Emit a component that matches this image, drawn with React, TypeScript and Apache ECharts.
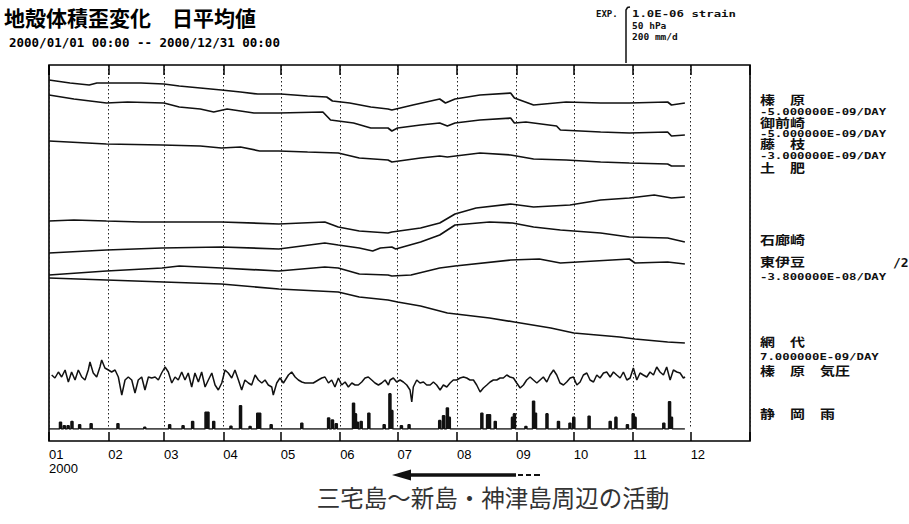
import React, { useEffect, useRef } from "react";
import * as echarts from "echarts";

// ---------- data (x = day of year 2000, 0 = Jan 1; y = chart offset units) ----------
const monthLabels = ["01", "02", "03", "04", "05", "06", "07", "08", "09", "10", "11", "12"];

const haibara = [[0,349],[11,346],[21,344],[25,346],[39,346],[48,346],[60,345],[68,343],[79,341],[90,339],[100,337],[109,335],[121,335],[135,333],[145,332],[148,328],[157,326],[168,322],[177,320],[179,319],[190,324],[204,330],[207,326],[212,330],[225,334],[241,336],[243,331],[253,324],[270,327],[288,326],[303,326],[323,327],[325,324],[332,326]];
const omaezaki = [[0,334],[13,330],[30,326],[41,327],[60,326],[68,322],[79,320],[86,317],[93,320],[107,316],[120,316],[143,317],[147,309],[151,308],[159,306],[168,301],[177,301],[179,298],[182,301],[194,304],[204,306],[208,303],[212,306],[225,309],[241,311],[243,306],[249,307],[265,303],[267,299],[288,297],[303,296],[323,297],[325,293],[332,294]];
const fujieda = [[0,288],[30,285],[59,284],[79,283],[90,281],[100,282],[110,278],[120,278],[135,277],[151,276],[162,271],[177,269],[179,267],[194,271],[204,273],[208,272],[225,276],[241,274],[253,270],[270,269],[288,267],[303,266],[323,265],[325,263],[332,263]];
const toi = [[0,208],[13,209],[30,208],[48,207],[59,207],[90,207],[120,205],[144,207],[151,202],[162,198],[177,196],[179,197],[194,201],[204,206],[212,215],[223,221],[241,225],[253,222],[272,224],[288,229],[303,231],[316,234],[325,231],[332,232]];
const irozaki = [[0,176],[30,179],[59,181],[90,182],[120,180],[144,186],[151,184],[162,181],[169,178],[173,181],[179,182],[181,180],[194,187],[204,194],[212,204],[230,207],[242,206],[253,202],[267,199],[288,196],[303,192],[323,191],[332,187]];
const higashiIzu = [[0,154],[30,158],[59,161],[68,163],[90,161],[120,158],[144,162],[151,161],[162,155],[177,154],[179,153],[189,154],[204,161],[212,163],[241,169],[256,170],[267,166],[303,170],[306,166],[323,167],[332,165]];
const ajiro = [[0,151],[30,149],[60,147],[90,145],[120,140],[151,137],[162,132],[177,129],[182,127],[194,123],[208,116],[230,111],[243,107],[262,101],[274,96],[298,92],[306,90],[323,87],[332,86]];

const haibaraPressure = [[1.4,54],[3.1,51],[4.9,57],[6.6,52],[8.4,59],[10.1,47],[11.8,57],[13.6,49],[15.3,59],[17.1,52],[18.8,49],[20.5,59],[21.4,67],[23.1,56],[24.9,52],[26.6,62],[27.5,69],[29.2,61],[31,59],[32.7,57],[34.5,59],[36.2,52],[38,34],[39.7,49],[41.4,52],[43.2,49],[44.9,36],[46.6,49],[48.4,52],[50.1,39],[51.9,52],[53.6,51],[55.4,52],[57.1,49],[58.8,56],[60.6,62],[62.3,57],[64.1,46],[65.8,52],[67.5,49],[69.3,57],[71,49],[72.7,56],[74.5,42],[76.2,56],[78,47],[79.7,57],[81.5,42],[83.2,49],[85,56],[86.7,44],[88.4,39],[90.2,46],[91.9,59],[93.6,56],[95.4,51],[97.1,59],[98.9,49],[100.6,39],[102.3,49],[104.1,46],[105.8,44],[107.6,54],[109.3,49],[111.1,46],[112.8,49],[114.5,44],[116.3,42],[117.1,34],[118.9,46],[120.6,51],[122.4,46],[125,54],[126.7,57],[128.5,52],[130.2,49],[132,47],[133.7,46],[135.4,46],[138,46],[140.6,49],[142.4,51],[144.1,52],[145.9,46],[147.6,49],[149.3,42],[151.1,51],[152.8,44],[154.6,47],[156.3,42],[158.1,46],[159.8,44],[161.5,44],[163.3,47],[165,51],[166.7,52],[168.5,49],[170.2,46],[172,44],[173.7,46],[175.5,49],[177.2,44],[178.1,49],[179.8,51],[181.5,47],[183.3,49],[185,47],[186.8,44],[188.5,39],[189.4,27],[190.2,42],[192,49],[193.7,46],[195.5,47],[197.2,44],[199,44],[200.7,47],[202.4,44],[204.2,39],[205.9,44],[207.7,42],[209.4,46],[211.1,49],[212.9,49],[214.6,51],[216.4,52],[218.1,51],[219.8,49],[221.6,49],[223.3,44],[225.1,37],[226.8,41],[228.6,44],[230.3,47],[232,49],[233.8,49],[235.5,51],[237.2,51],[239,54],[240.7,52],[242.5,51],[244.2,46],[246,41],[247.7,44],[249.4,49],[251.2,52],[252.9,49],[254.7,46],[256.4,49],[258.1,52],[259.9,47],[261.6,54],[263.4,59],[265.1,54],[266.8,46],[268.6,44],[270.3,47],[272.1,51],[273.8,52],[275.6,44],[277.3,47],[279,54],[280.8,56],[282.5,49],[284.3,47],[286,54],[287.7,51],[289.5,56],[291.2,57],[293,52],[294.7,57],[296.4,54],[298.2,51],[299.9,57],[301.7,49],[303.4,51],[305.1,61],[306.9,49],[308.6,56],[310.3,54],[312.1,52],[313.8,57],[315.6,54],[317.3,62],[319,57],[320.8,54],[322.5,62],[324.3,49],[326,59],[327.8,57],[329.5,56],[331.2,51],[332.1,52]];

// Shizuoka daily rainfall, mm/d (days not listed: no visible rain)
const shizuokaRain = [[6,25],[8,12],[10,12],[12,28],[16,16],[22,19],[36,19],[50,6],[63,16],[70,12],[75,28],[82,62],[83,62],[86,28],[95,10],[100,86],[105,9],[109,58],[110,58],[116,16],[132,21],[146,41],[148,33],[150,19],[159,95],[160,56],[161,25],[163,28],[167,58],[175,16],[178,130],[179,68],[184,12],[188,16],[204,31],[206,49],[208,78],[209,43],[226,58],[229,53],[230,53],[233,28],[242,43],[243,56],[249,9],[253,103],[254,58],[260,56],[266,28],[272,21],[274,43],[282,47],[293,28],[296,43],[302,16],[305,56],[306,43],[321,21],[324,101],[325,43]];
const lastDataDay = 332;

// ---------- helpers ----------
const START = new Date(2000, 0, 1).getTime();
const END = new Date(2001, 0, 1).getTime();
const DAY = 86400000;
const toTime = (pairs: number[][]) => pairs.map(([d, v]) => [START + d * DAY, v]);

const rainDaily: number[][] = [];
for (let d = 0; d <= lastDataDay; d++) rainDaily.push([d, 0]);
shizuokaRain.forEach(([d, v]) => { rainDaily[d][1] = v; });

const INK = "#111";
const MONO = '"DejaVu Sans Mono"';
const CJK = '"Noto Sans CJK JP"';

const strainLine = (data: number[][]) => ({
  type: "line",
  xAxisIndex: 0,
  yAxisIndex: 0,
  data: toTime(data),
  symbol: "none",
  silent: true,
  lineStyle: { color: INK, width: 1.7 },
});

const rightLabels: [string, number, boolean][] = [
  ["榛　原", 100, true],
  ["-5.000000E-09/DAY", 112, false],
  ["御前崎", 123, true],
  ["-5.000000E-09/DAY", 134, false],
  ["藤　枝", 144, true],
  ["-3.000000E-09/DAY", 156, false],
  ["土　肥", 168, true],
  ["石廊崎", 240, true],
  ["東伊豆", 262, true],
  ["-3.800000E-08/DAY", 277, false],
  ["網　代", 342, true],
  ["7.000000E-09/DAY", 357, false],
  ["榛　原　気圧", 371, true],
  ["静　岡　雨", 414, true],
];

const txt = (text: string, x: number, y: number, font: string, scaleX = 1, align = "left", fill = INK) => ({
  type: "text",
  x,
  y,
  scaleX,
  silent: true,
  style: { text, fill, font, textAlign: align, textVerticalAlign: "middle" },
});

export default function App() {
  const ref = useRef<HTMLDivElement>(null);
  useEffect(() => {
    const chart = echarts.init(ref.current!, null, { renderer: "svg" });
    const timeAxisBase = {
      type: "time",
      min: START,
      max: END,
      splitNumber: 12,
      minInterval: 28 * DAY,
      maxInterval: 31 * DAY,
    };
    const graphics: any[] = rightLabels.map(([t, y, cjk]) =>
      cjk ? txt(t, 760, y, `bold 12.5px ${CJK}`, 1.2) : txt(t, 760, y, `bold 9.5px ${MONO}`, 1.3)
    );
    graphics.push(
      txt("/2", 893, 262, `bold 13px ${MONO}`),
      txt("EXP.", 596, 14, `bold 9px ${MONO}`),
      { type: "polyline", shape: { points: [[626, 63], [626, 10], [627.5, 7.5], [630, 7]] }, style: { stroke: INK, lineWidth: 1.5, fill: "none" } },
      txt("1.0E-06 strain", 632, 14, `bold 9.5px ${MONO}`, 1.3),
      txt("50 hPa", 632, 25, `bold 9.5px ${MONO}`),
      txt("200 mm/d", 632, 36, `bold 9.5px ${MONO}`),
      // arrow
      { type: "polygon", shape: { points: [[392, 475], [411, 469.5], [411, 480.5]] }, style: { fill: INK } },
      { type: "rect", shape: { x: 409, y: 473.3, width: 107, height: 3.4 }, style: { fill: INK } },
      { type: "line", shape: { x1: 518, y1: 475, x2: 523, y2: 475 }, style: { stroke: INK, lineWidth: 2 } },
      { type: "line", shape: { x1: 526, y1: 475, x2: 531, y2: 475 }, style: { stroke: INK, lineWidth: 2 } },
      { type: "line", shape: { x1: 534, y1: 475, x2: 540, y2: 475 }, style: { stroke: INK, lineWidth: 2 } },
      txt("三宅島～新島・神津島周辺の活動", 493, 497, `23.5px ${CJK}`, 1, "center", "#333")
    );

    chart.setOption({
      animation: false,
      backgroundColor: "#fff",
      title: [
        { text: "地殻体積歪変化　日平均値", left: 4, top: 6, padding: 0, textStyle: { fontFamily: CJK, fontSize: 21, fontWeight: "bold", color: "#000" } },
        { text: "2000/01/01 00:00 -- 2000/12/31 00:00", left: 9, top: 36, padding: 0, textStyle: { fontFamily: MONO, fontSize: 12.5, fontWeight: "bold", color: "#000" } },
      ],
      grid: [
        { left: 49, right: 159, top: 65, height: 364 },
        { left: 49, right: 159, top: 65, height: 376, show: true, borderColor: "#000", borderWidth: 1.6, backgroundColor: "transparent" },
      ],
      xAxis: [
        {
          ...timeAxisBase,
          gridIndex: 0,
          axisLine: { show: false },
          axisTick: { show: false },
          axisLabel: { show: false },
          splitLine: { show: true, lineStyle: { color: "#222", width: 1, type: [1.5, 2.5] } },
        },
        {
          ...timeAxisBase,
          gridIndex: 1,
          position: "bottom",
          axisLine: { show: false },
          axisTick: { show: true, inside: true, length: 9, lineStyle: { color: "#000", width: 1.5 } },
          splitLine: { show: false },
          axisLabel: {
            show: true,
            color: "#000",
            fontFamily: '"Liberation Sans"',
            fontSize: 13,
            lineHeight: 14,
            align: "left",
            margin: 6,
            showMinLabel: true,
            showMaxLabel: true,
            formatter: (value: number) => {
              const d = new Date(value);
              if (d.getFullYear() !== 2000) return "";
              const m = d.getMonth();
              return m === 0 ? monthLabels[0] + "\n2000" : monthLabels[m];
            },
          },
        },
        {
          ...timeAxisBase,
          gridIndex: 1,
          position: "top",
          axisLine: { show: false },
          axisTick: { show: true, inside: true, length: 10, lineStyle: { color: "#000", width: 1.5 } },
          axisLabel: { show: false },
          splitLine: { show: false },
        },
      ],
      yAxis: [
        { type: "value", gridIndex: 0, min: 0, max: 364, show: false },
        { type: "value", gridIndex: 0, min: 0, max: 1348, show: false },
        { type: "value", gridIndex: 1, min: 0, max: 1, show: false },
      ],
      series: [
        strainLine(haibara),
        strainLine(omaezaki),
        strainLine(fujieda),
        strainLine(toi),
        strainLine(irozaki),
        strainLine(higashiIzu),
        strainLine(ajiro),
        { ...strainLine(haibaraPressure), lineStyle: { color: INK, width: 1.5 } },
        {
          type: "line",
          xAxisIndex: 0,
          yAxisIndex: 1,
          step: "middle",
          data: toTime(rainDaily),
          symbol: "none",
          silent: true,
          lineStyle: { color: INK, width: 1.6 },
          areaStyle: { color: INK, opacity: 1 },
        },
      ],
      graphic: graphics,
    });
    return () => chart.dispose();
  }, []);
  return <div ref={ref} style={{ position: "absolute", left: 0, top: 0, width: 909, height: 524, background: "#fff" }} />;
}
